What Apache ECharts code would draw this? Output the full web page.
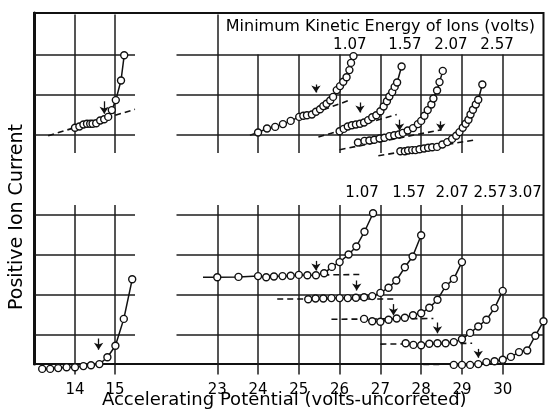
<!DOCTYPE html>
<html><head><meta charset="utf-8">
<script src="https://cdn.jsdelivr.net/npm/echarts@6/dist/echarts.min.js"></script>
<style>html,body{margin:0;padding:0;background:#fff}#c{width:548px;height:414px}</style>
</head><body><div id="c"></div>
<script>
// ---------- data ----------
const xTicksLeft = [14, 15];
const xTicksRight = [23, 24, 25, 26, 27, 28, 29, 30];
const yGridLower = [1, 2, 3, 4];
const yGridUpper = [6, 7, 8];
const headerTitle = 'Minimum Kinetic Energy of Ions (volts)';
const energyLabelsUpper = ['1.07', '1.57', '2.07', '2.57'];
const energyLabelsLower = ['1.07', '1.57', '2.07', '2.57', '3.07'];
const xTitle = 'Accelerating Potential (volts-uncorreted)';
const yTitle = 'Positive Ion Current';

// upper-left curve (x volts, y current in grid units)
const ulCurve = [[14.0,6.17],[14.11,6.2],[14.21,6.25],[14.3,6.27],[14.38,6.27],[14.44,6.27],[14.53,6.28],[14.63,6.35],[14.73,6.38],[14.83,6.44],[14.92,6.61],[15.02,6.86],[15.15,7.35],[15.23,7.98]];
const llCurve = [[13.18,0.14],[13.38,0.14],[13.58,0.16],[13.79,0.18],[14.0,0.18],[14.21,0.21],[14.4,0.23],[14.61,0.26],[14.81,0.43],[15.01,0.72],[15.22,1.39],[15.43,2.38]];

const ur1Curve = [[24.0,6.05],[24.22,6.15],[24.42,6.19],[24.61,6.26],[24.8,6.34],[25.01,6.44],[25.11,6.47],[25.2,6.48],[25.32,6.5],[25.42,6.57],[25.52,6.63],[25.6,6.71],[25.68,6.77],[25.77,6.85],[25.84,6.94],[25.93,7.11],[26.01,7.21],[26.09,7.32],[26.17,7.43],[26.24,7.61],[26.28,7.79],[26.34,7.96]];
const ur2Curve = [[26.0,6.08],[26.1,6.14],[26.2,6.2],[26.3,6.23],[26.4,6.25],[26.5,6.27],[26.6,6.3],[26.7,6.36],[26.8,6.43],[26.9,6.48],[27.0,6.58],[27.08,6.7],[27.16,6.83],[27.22,6.95],[27.29,7.06],[27.35,7.19],[27.41,7.3],[27.52,7.7]];
const ur3Curve = [[26.45,5.8],[26.61,5.84],[26.73,5.85],[26.85,5.87],[26.98,5.9],[27.1,5.92],[27.22,5.96],[27.34,5.98],[27.45,6.0],[27.55,6.04],[27.67,6.1],[27.8,6.16],[27.92,6.26],[28.0,6.34],[28.08,6.47],[28.16,6.61],[28.25,6.75],[28.3,6.9],[28.39,7.1],[28.45,7.31],[28.53,7.59]];
const ur4Curve = [[27.49,5.58],[27.6,5.58],[27.68,5.6],[27.78,5.61],[27.86,5.61],[27.96,5.63],[28.07,5.65],[28.17,5.67],[28.27,5.68],[28.39,5.69],[28.52,5.75],[28.64,5.81],[28.76,5.89],[28.86,5.97],[28.94,6.06],[29.02,6.17],[29.09,6.27],[29.16,6.37],[29.21,6.5],[29.27,6.62],[29.34,6.75],[29.4,6.87],[29.5,7.25]];

const lr1Curve = [[23.0,2.43],[23.52,2.44],[24.0,2.46],[24.2,2.43],[24.39,2.45],[24.6,2.46],[24.8,2.47],[25.0,2.49],[25.21,2.48],[25.42,2.48],[25.62,2.53],[25.81,2.69],[26.0,2.81],[26.22,3.0],[26.41,3.2],[26.61,3.57],[26.82,4.03]];
const lr2Curve = [[25.23,1.88],[25.41,1.9],[25.6,1.9],[25.8,1.91],[26.0,1.91],[26.2,1.91],[26.4,1.92],[26.6,1.93],[26.8,1.96],[27.0,2.04],[27.2,2.17],[27.39,2.35],[27.6,2.68],[27.79,2.95],[28.0,3.48]];
const lr3Curve = [[26.6,1.39],[26.8,1.33],[27.0,1.32],[27.2,1.37],[27.4,1.4],[27.6,1.42],[27.8,1.48],[28.0,1.53],[28.2,1.67],[28.4,1.87],[28.6,2.21],[28.8,2.39],[29.0,2.81]];
const lr4Curve = [[27.62,0.78],[27.81,0.74],[28.0,0.73],[28.2,0.77],[28.4,0.78],[28.6,0.78],[28.8,0.81],[29.0,0.88],[29.2,1.04],[29.4,1.2],[29.6,1.37],[29.8,1.66],[30.0,2.09]];
const lr5Curve = [[28.8,0.24],[29.0,0.24],[29.2,0.24],[29.4,0.26],[29.6,0.31],[29.8,0.33],[30.0,0.37],[30.2,0.44],[30.4,0.56],[30.6,0.6],[30.8,0.97],[31.0,1.33]];

// solid lead-in segments (no markers)
const ur1Lead = [[23.8,5.98],[24.0,6.05]];
const lr1Lead = [[22.65,2.43],[23.0,2.43]];

// dashed base lines
const leftBases = [[[13.33,5.97],[15.5,6.63]], [[14.63,0.26],[15.23,0.26]]];
const rightBases = [
  [[25.6,6.62],[26.25,6.86]], [[25.48,5.94],[27.4,6.5]], [[26.0,5.62],[28.5,6.12]], [[26.95,5.47],[29.35,5.87]],
  [[25.6,2.49],[26.5,2.5]], [[24.47,1.89],[27.4,1.89]], [[25.8,1.38],[28.3,1.4]], [[27.0,0.76],[29.25,0.78]], [[28.05,0.25],[30.05,0.27]]
];
// onset arrows: [x, yFrom, yTo]
const leftArrows = [[14.73,6.83,6.52],[14.59,0.9,0.62]];
const rightArrows = [[25.42,7.25,7.05],[26.5,6.8,6.55],[27.47,6.37,6.1],[28.48,6.33,6.1],
  [25.42,2.84,2.6],[26.42,2.35,2.1],[27.32,1.76,1.48],[28.4,1.3,1.03],[29.4,0.64,0.42]];

// ---------- layout (positions, not data) ----------
const L = { left: 35, width: 100, xmin: 13, xmax: 15.5 };
const R = { left: 176.5, width: 367, xmin: 22, xmax: 31 };
const TOP = 14.5, H = 360, YMAX = 9;
const upperVBottom = 5.54, lowerVTop = 4.24;
const headerPos = [27.0, 8.69];
const upperLabelX = [26.25, 27.6, 28.73, 29.86], upperLabelY = 8.24;
const lowerLabelX = [26.55, 27.7, 28.76, 29.69, 30.55], lowerLabelY = 4.54;

const INK = '#111';
const FONT = 'DejaVu Sans';

function seg(a, b) { return [{ coord: a }, { coord: b }]; }

// grid lines
const gridL = [];
xTicksLeft.forEach(x => { gridL.push(seg([x, upperVBottom], [x, YMAX])); gridL.push(seg([x, 0], [x, lowerVTop])); });
yGridLower.concat(yGridUpper).forEach(y => gridL.push(seg([L.xmin, y], [L.xmax, y])));
const gridR = [];
xTicksRight.forEach(x => { gridR.push(seg([x, upperVBottom], [x, x === 23 ? YMAX : 8])); gridR.push(seg([x, 0], [x, lowerVTop])); });
yGridLower.concat(yGridUpper).forEach(y => gridR.push(seg([R.xmin, y], [R.xmax, y])));

function markSeries(idx, lines, style, symbols, z) {
  return {
    type: 'line', xAxisIndex: idx, yAxisIndex: idx, data: [], z: z, silent: true,
    markLine: {
      silent: true, animation: false, symbol: symbols || ['none', 'none'], symbolSize: 7,
      label: { show: false }, emphasis: { disabled: true },
      lineStyle: style, data: lines
    }
  };
}
function curve(idx, d) {
  return {
    type: 'line', xAxisIndex: idx, yAxisIndex: idx, data: d, z: 5, clip: false,
    symbol: 'circle', symbolSize: 7, showSymbol: true,
    lineStyle: { color: INK, width: 1.5 },
    itemStyle: { color: '#fff', borderColor: INK, borderWidth: 1.4 }
  };
}
function lead(idx, d) {
  return { type: 'line', xAxisIndex: idx, yAxisIndex: idx, data: d, z: 4, symbol: 'none', lineStyle: { color: INK, width: 1.5 } };
}
function labels(idx, texts, xs, y, size) {
  return {
    type: 'scatter', xAxisIndex: idx, yAxisIndex: idx, symbolSize: 2, z: 6, silent: true,
    itemStyle: { color: 'rgba(255,255,255,0)' },
    label: { show: true, position: [1, 1], align: 'center', verticalAlign: 'middle', formatter: '{b}',
      color: '#000', opacity: 1, fontFamily: FONT, fontSize: size, textBorderWidth: 0 },
    labelLayout: { hideOverlap: false },
    data: texts.map((t, i) => ({ name: t, value: [xs[i], y] }))
  };
}

const dashStyle = { color: INK, width: 1.6, type: [6, 4] };
const gridStyle = { color: '#1c1c1c', width: 1.5, type: 'solid' };
const arrowStyle = { color: INK, width: 1.3, type: 'solid' };

const axisX = (idx, a, ticks) => ({
  type: 'value', gridIndex: idx, min: a.xmin, max: a.xmax, interval: 1,
  axisLine: { show: false }, axisTick: { show: false }, splitLine: { show: false },
  axisLabel: { showMaxLabel: false, showMinLabel: true, margin: 8, color: '#000', fontFamily: FONT, fontSize: 15,
    formatter: v => ticks.includes(v) ? String(v) : '' }
});
const axisY = idx => ({ type: 'value', gridIndex: idx, min: 0, max: YMAX, show: false });

const option = {
  animation: false,
  backgroundColor: '#fff',
  grid: [
    { left: L.left, top: TOP, width: L.width, height: H },
    { left: R.left, top: TOP, width: R.width, height: H },
    { left: 34, top: 13, width: 509.5, height: 361.5, show: true, borderColor: INK, borderWidth: 2, backgroundColor: 'transparent' }
  ],
  xAxis: [
    axisX(0, L, xTicksLeft), axisX(1, R, xTicksRight),
    { type: 'value', gridIndex: 2, min: 0, max: 1, axisLine: { show: false }, axisTick: { show: false }, axisLabel: { show: false }, splitLine: { show: false },
      name: xTitle, nameLocation: 'middle', nameGap: 27,
      nameTextStyle: { color: '#000', fontFamily: FONT, fontSize: 18, padding: [0, 9, 0, 0] } }
  ],
  yAxis: [
    axisY(0), axisY(1),
    { type: 'value', gridIndex: 2, min: 0, max: 1, position: 'right', axisLine: { show: true, lineStyle: { color: INK, width: 3 } },
      axisTick: { show: false }, axisLabel: { show: false }, splitLine: { show: false } }
  ],
  graphic: [{
    type: 'text', x: 17, y: 217, rotation: Math.PI / 2,
    style: { text: yTitle, fill: '#000', fontFamily: FONT, fontSize: 19, align: 'center', verticalAlign: 'middle' }
  }],
  series: [
    markSeries(0, gridL, gridStyle, null, 1),
    markSeries(1, gridR, gridStyle, null, 1),
    markSeries(0, leftBases.map(b => seg(b[0], b[1])), dashStyle, null, 2),
    markSeries(1, rightBases.map(b => seg(b[0], b[1])), dashStyle, null, 2),
    markSeries(0, leftArrows.map(a => seg([a[0], a[1]], [a[0], a[2]])), arrowStyle, ['none', 'arrow'], 3),
    markSeries(1, rightArrows.map(a => seg([a[0], a[1]], [a[0], a[2]])), arrowStyle, ['none', 'arrow'], 3),
    lead(1, ur1Lead), lead(1, lr1Lead),
    curve(0, ulCurve), curve(0, llCurve),
    curve(1, ur1Curve), curve(1, ur2Curve), curve(1, ur3Curve), curve(1, ur4Curve),
    curve(1, lr1Curve), curve(1, lr2Curve), curve(1, lr3Curve), curve(1, lr4Curve), curve(1, lr5Curve),
    labels(1, [headerTitle], [headerPos[0]], headerPos[1], 16),
    labels(1, energyLabelsUpper, upperLabelX, upperLabelY, 15),
    labels(1, energyLabelsLower, lowerLabelX, lowerLabelY, 15)
  ]
};
const chart = echarts.init(document.getElementById('c'), null, { renderer: 'canvas' });
chart.setOption(option);
</script></body></html>
